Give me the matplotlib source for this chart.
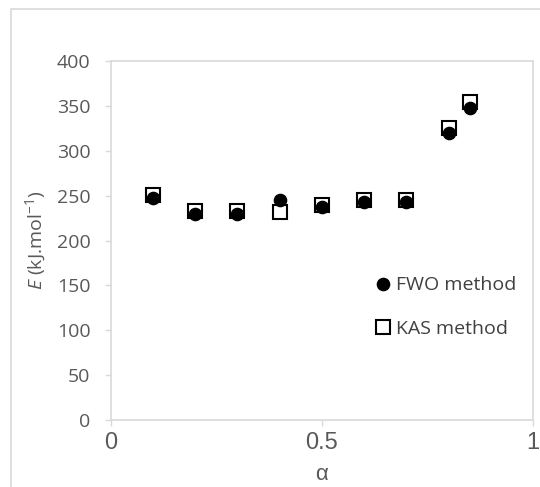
import matplotlib
matplotlib.use("Agg")
import matplotlib.pyplot as plt
from matplotlib.patches import Rectangle

alpha = [0.1, 0.2, 0.3, 0.4, 0.5, 0.6, 0.7, 0.8, 0.85]
fwo = [247, 230, 230, 245, 237, 243, 243, 320, 348]
kas = [251, 233, 233, 232, 239, 245, 245, 325, 354]
xticks = [0, 0.5, 1]
yticks = [0, 50, 100, 150, 200, 250, 300, 350, 400]

plt.rcParams['font.family'] = ['Open Sans', 'DejaVu Sans']
plt.rcParams['mathtext.fontset'] = 'custom'
plt.rcParams['mathtext.rm'] = 'Open Sans'
plt.rcParams['mathtext.it'] = 'Open Sans:italic'

grey = '#595959'
frame = '#d9d9d9'

fig = plt.figure(figsize=(5.40, 4.87), dpi=100)
ax = fig.add_axes([110.7/540, 1-420/487, (533-110.7)/540, (420-61)/487])

# outer chart border
fig.patches.append(Rectangle((11/540, -0.5), 2.0, 0.5 + 1 - 9/487, transform=fig.transFigure,
                             fill=False, edgecolor=frame, linewidth=1.2, zorder=0))

ax.plot(alpha, kas, linestyle='none', marker='s', markersize=10.3, markerfacecolor='none',
        markeredgecolor='black', markeredgewidth=1.5, label='KAS method', zorder=3)
ax.plot(alpha, fwo, linestyle='none', marker='o', markersize=8.8, color='black',
        label='FWO method', zorder=4)

ax.set_xlim(0, 1)
ax.set_ylim(0, 400)
ax.set_xticks(xticks)
ax.set_xticklabels(['0', '0.5', '1'], family='Liberation Sans', fontsize=17, color=grey)
ax.set_yticks(yticks)
ax.tick_params(axis='y', direction='out', length=4.5, width=1, color=frame, pad=10,
               labelsize=14, labelcolor=grey)
ax.tick_params(axis='x', direction='out', length=4.5, width=1, color=frame, pad=4,
               labelcolor=grey)
for s in ax.spines.values():
    s.set_color(frame)
    s.set_linewidth(1.2)

ax.set_ylabel(r'$E$ (kJ.mol$^{-1}$)', fontsize=14, color=grey)
ax.yaxis.set_label_coords(-0.177, 0.5)
ax.yaxis.label.set_va('center')
ax.set_xlabel('α', fontsize=16, color=grey, family='Liberation Sans')
ax.xaxis.set_label_coords(0.5, -0.153)
ax.xaxis.label.set_va('center')

h, l = ax.get_legend_handles_labels()
leg = ax.legend([h[1], h[0]], [l[1], l[0]], loc='center left',
                bbox_to_anchor=((377-110.7)/422.3, (420-307)/359), frameon=False,
                fontsize=14, labelspacing=1.3, handlelength=0.6, handletextpad=0.4,
                borderpad=0, borderaxespad=0)
for t in leg.get_texts():
    t.set_color('#404040')

fig.savefig('out.png', dpi=100)
